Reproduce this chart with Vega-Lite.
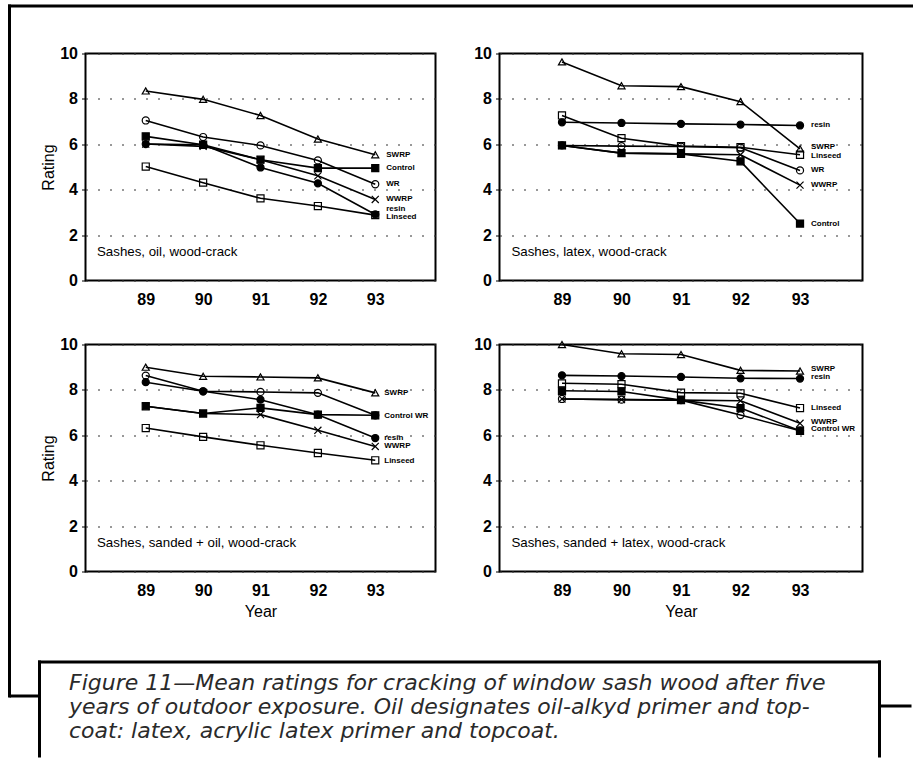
{
  "$schema": "https://vega.github.io/schema/vega-lite/v6.json",
  "padding": {"left": 8.5, "top": 5.5, "right": 0, "bottom": 0},
  "background": "white",
  "datasets": {
    "ratings": [
      {"panel": "oil", "series": "SWRP", "year": 89, "rating": 8.35},
      {"panel": "oil", "series": "SWRP", "year": 90, "rating": 7.98},
      {"panel": "oil", "series": "SWRP", "year": 91, "rating": 7.27},
      {"panel": "oil", "series": "SWRP", "year": 92, "rating": 6.23},
      {"panel": "oil", "series": "SWRP", "year": 93, "rating": 5.54},
      {"panel": "oil", "series": "WR", "year": 89, "rating": 7.05},
      {"panel": "oil", "series": "WR", "year": 90, "rating": 6.32},
      {"panel": "oil", "series": "WR", "year": 91, "rating": 5.95},
      {"panel": "oil", "series": "WR", "year": 92, "rating": 5.29},
      {"panel": "oil", "series": "WR", "year": 93, "rating": 4.24},
      {"panel": "oil", "series": "resin", "year": 89, "rating": 6.01},
      {"panel": "oil", "series": "resin", "year": 90, "rating": 5.98},
      {"panel": "oil", "series": "resin", "year": 91, "rating": 4.98},
      {"panel": "oil", "series": "resin", "year": 92, "rating": 4.28},
      {"panel": "oil", "series": "resin", "year": 93, "rating": 2.91},
      {"panel": "oil", "series": "Control", "year": 89, "rating": 6.35},
      {"panel": "oil", "series": "Control", "year": 90, "rating": 5.98},
      {"panel": "oil", "series": "Control", "year": 91, "rating": 5.32},
      {"panel": "oil", "series": "Control", "year": 92, "rating": 4.95},
      {"panel": "oil", "series": "Control", "year": 93, "rating": 4.95},
      {"panel": "oil", "series": "WWRP", "year": 89, "rating": 6.01},
      {"panel": "oil", "series": "WWRP", "year": 90, "rating": 5.91},
      {"panel": "oil", "series": "WWRP", "year": 91, "rating": 5.32},
      {"panel": "oil", "series": "WWRP", "year": 92, "rating": 4.61},
      {"panel": "oil", "series": "WWRP", "year": 93, "rating": 3.57},
      {"panel": "oil", "series": "Linseed", "year": 89, "rating": 5.02},
      {"panel": "oil", "series": "Linseed", "year": 90, "rating": 4.31},
      {"panel": "oil", "series": "Linseed", "year": 91, "rating": 3.62},
      {"panel": "oil", "series": "Linseed", "year": 92, "rating": 3.28},
      {"panel": "oil", "series": "Linseed", "year": 93, "rating": 2.88},

      {"panel": "latex", "series": "SWRP", "year": 89, "rating": 9.63},
      {"panel": "latex", "series": "SWRP", "year": 90, "rating": 8.58},
      {"panel": "latex", "series": "SWRP", "year": 91, "rating": 8.54},
      {"panel": "latex", "series": "SWRP", "year": 92, "rating": 7.88},
      {"panel": "latex", "series": "SWRP", "year": 93, "rating": 5.8},
      {"panel": "latex", "series": "resin", "year": 89, "rating": 6.97},
      {"panel": "latex", "series": "resin", "year": 90, "rating": 6.94},
      {"panel": "latex", "series": "resin", "year": 91, "rating": 6.9},
      {"panel": "latex", "series": "resin", "year": 92, "rating": 6.87},
      {"panel": "latex", "series": "resin", "year": 93, "rating": 6.83},
      {"panel": "latex", "series": "Linseed", "year": 89, "rating": 7.27},
      {"panel": "latex", "series": "Linseed", "year": 90, "rating": 6.27},
      {"panel": "latex", "series": "Linseed", "year": 91, "rating": 5.92},
      {"panel": "latex", "series": "Linseed", "year": 92, "rating": 5.87},
      {"panel": "latex", "series": "Linseed", "year": 93, "rating": 5.54},
      {"panel": "latex", "series": "WR", "year": 89, "rating": 5.95},
      {"panel": "latex", "series": "WR", "year": 90, "rating": 5.92},
      {"panel": "latex", "series": "WR", "year": 91, "rating": 5.9},
      {"panel": "latex", "series": "WR", "year": 92, "rating": 5.85},
      {"panel": "latex", "series": "WR", "year": 93, "rating": 4.85},
      {"panel": "latex", "series": "WWRP", "year": 89, "rating": 5.95},
      {"panel": "latex", "series": "WWRP", "year": 90, "rating": 5.61},
      {"panel": "latex", "series": "WWRP", "year": 91, "rating": 5.58},
      {"panel": "latex", "series": "WWRP", "year": 92, "rating": 5.54},
      {"panel": "latex", "series": "WWRP", "year": 93, "rating": 4.2},
      {"panel": "latex", "series": "Control", "year": 89, "rating": 5.95},
      {"panel": "latex", "series": "Control", "year": 90, "rating": 5.61},
      {"panel": "latex", "series": "Control", "year": 91, "rating": 5.58},
      {"panel": "latex", "series": "Control", "year": 92, "rating": 5.25},
      {"panel": "latex", "series": "Control", "year": 93, "rating": 2.51},

      {"panel": "sanded oil", "series": "SWRP", "year": 89, "rating": 9.0},
      {"panel": "sanded oil", "series": "SWRP", "year": 90, "rating": 8.6},
      {"panel": "sanded oil", "series": "SWRP", "year": 91, "rating": 8.57},
      {"panel": "sanded oil", "series": "SWRP", "year": 92, "rating": 8.53},
      {"panel": "sanded oil", "series": "SWRP", "year": 93, "rating": 7.87},
      {"panel": "sanded oil", "series": "WR", "year": 89, "rating": 8.63},
      {"panel": "sanded oil", "series": "WR", "year": 90, "rating": 7.94},
      {"panel": "sanded oil", "series": "WR", "year": 91, "rating": 7.91},
      {"panel": "sanded oil", "series": "WR", "year": 92, "rating": 7.87},
      {"panel": "sanded oil", "series": "WR", "year": 93, "rating": 6.88},
      {"panel": "sanded oil", "series": "resin", "year": 89, "rating": 8.34},
      {"panel": "sanded oil", "series": "resin", "year": 90, "rating": 7.94},
      {"panel": "sanded oil", "series": "resin", "year": 91, "rating": 7.57},
      {"panel": "sanded oil", "series": "resin", "year": 92, "rating": 6.91},
      {"panel": "sanded oil", "series": "resin", "year": 93, "rating": 5.88},
      {"panel": "sanded oil", "series": "Control", "year": 89, "rating": 7.28},
      {"panel": "sanded oil", "series": "Control", "year": 90, "rating": 6.96},
      {"panel": "sanded oil", "series": "Control", "year": 91, "rating": 7.21},
      {"panel": "sanded oil", "series": "Control", "year": 92, "rating": 6.91},
      {"panel": "sanded oil", "series": "Control", "year": 93, "rating": 6.88},
      {"panel": "sanded oil", "series": "WWRP", "year": 89, "rating": 7.28},
      {"panel": "sanded oil", "series": "WWRP", "year": 90, "rating": 6.96},
      {"panel": "sanded oil", "series": "WWRP", "year": 91, "rating": 6.91},
      {"panel": "sanded oil", "series": "WWRP", "year": 92, "rating": 6.22},
      {"panel": "sanded oil", "series": "WWRP", "year": 93, "rating": 5.51},
      {"panel": "sanded oil", "series": "Linseed", "year": 89, "rating": 6.32},
      {"panel": "sanded oil", "series": "Linseed", "year": 90, "rating": 5.93},
      {"panel": "sanded oil", "series": "Linseed", "year": 91, "rating": 5.56},
      {"panel": "sanded oil", "series": "Linseed", "year": 92, "rating": 5.22},
      {"panel": "sanded oil", "series": "Linseed", "year": 93, "rating": 4.9},

      {"panel": "sanded latex", "series": "SWRP", "year": 89, "rating": 10.0},
      {"panel": "sanded latex", "series": "SWRP", "year": 90, "rating": 9.59},
      {"panel": "sanded latex", "series": "SWRP", "year": 91, "rating": 9.56},
      {"panel": "sanded latex", "series": "SWRP", "year": 92, "rating": 8.86},
      {"panel": "sanded latex", "series": "SWRP", "year": 93, "rating": 8.83},
      {"panel": "sanded latex", "series": "resin", "year": 89, "rating": 8.64},
      {"panel": "sanded latex", "series": "resin", "year": 90, "rating": 8.61},
      {"panel": "sanded latex", "series": "resin", "year": 91, "rating": 8.57},
      {"panel": "sanded latex", "series": "resin", "year": 92, "rating": 8.51},
      {"panel": "sanded latex", "series": "resin", "year": 93, "rating": 8.5},
      {"panel": "sanded latex", "series": "Linseed", "year": 89, "rating": 8.29},
      {"panel": "sanded latex", "series": "Linseed", "year": 90, "rating": 8.25},
      {"panel": "sanded latex", "series": "Linseed", "year": 91, "rating": 7.88},
      {"panel": "sanded latex", "series": "Linseed", "year": 92, "rating": 7.85},
      {"panel": "sanded latex", "series": "Linseed", "year": 93, "rating": 7.2},
      {"panel": "sanded latex", "series": "Control", "year": 89, "rating": 7.96},
      {"panel": "sanded latex", "series": "Control", "year": 90, "rating": 7.93},
      {"panel": "sanded latex", "series": "Control", "year": 91, "rating": 7.55},
      {"panel": "sanded latex", "series": "Control", "year": 92, "rating": 7.2},
      {"panel": "sanded latex", "series": "Control", "year": 93, "rating": 6.2},
      {"panel": "sanded latex", "series": "WWRP", "year": 89, "rating": 7.6},
      {"panel": "sanded latex", "series": "WWRP", "year": 90, "rating": 7.57},
      {"panel": "sanded latex", "series": "WWRP", "year": 91, "rating": 7.55},
      {"panel": "sanded latex", "series": "WWRP", "year": 92, "rating": 7.52},
      {"panel": "sanded latex", "series": "WWRP", "year": 93, "rating": 6.53},
      {"panel": "sanded latex", "series": "WR", "year": 89, "rating": 7.6},
      {"panel": "sanded latex", "series": "WR", "year": 90, "rating": 7.57},
      {"panel": "sanded latex", "series": "WR", "year": 91, "rating": 7.55},
      {"panel": "sanded latex", "series": "WR", "year": 92, "rating": 6.89},
      {"panel": "sanded latex", "series": "WR", "year": 93, "rating": 6.2}
    ],
    "labels": [
      {"panel": "oil", "label": "SWRP", "rating": 5.55},
      {"panel": "oil", "label": "Control", "rating": 4.95},
      {"panel": "oil", "label": "WR", "rating": 4.25},
      {"panel": "oil", "label": "WWRP", "rating": 3.6},
      {"panel": "oil", "label": "resin", "rating": 3.14},
      {"panel": "oil", "label": "Linseed", "rating": 2.78},
      {"panel": "latex", "label": "resin", "rating": 6.83},
      {"panel": "latex", "label": "SWRP", "rating": 5.86},
      {"panel": "latex", "label": "Linseed", "rating": 5.5},
      {"panel": "latex", "label": "WR", "rating": 4.88},
      {"panel": "latex", "label": "WWRP", "rating": 4.2},
      {"panel": "latex", "label": "Control", "rating": 2.51},
      {"panel": "sanded oil", "label": "SWRP", "rating": 7.87},
      {"panel": "sanded oil", "label": "Control  WR", "rating": 6.87},
      {"panel": "sanded oil", "label": "resin", "rating": 5.9},
      {"panel": "sanded oil", "label": "WWRP", "rating": 5.55},
      {"panel": "sanded oil", "label": "Linseed", "rating": 4.87},
      {"panel": "sanded latex", "label": "SWRP", "rating": 8.92},
      {"panel": "sanded latex", "label": "resin", "rating": 8.58},
      {"panel": "sanded latex", "label": "Linseed", "rating": 7.2},
      {"panel": "sanded latex", "label": "WWRP", "rating": 6.6},
      {"panel": "sanded latex", "label": "Control  WR", "rating": 6.27}
    ],
    "titles": [
      {"panel": "oil", "title": "Sashes, oil, wood-crack"},
      {"panel": "latex", "title": "Sashes, latex, wood-crack"},
      {"panel": "sanded oil", "title": "Sashes, sanded + oil, wood-crack"},
      {"panel": "sanded latex", "title": "Sashes, sanded + latex, wood-crack"}
    ],
    "caption": [
      {"line": 1, "text": "Figure 11—Mean ratings for cracking of window sash wood after five"},
      {"line": 2, "text": "years of outdoor exposure. Oil designates oil-alkyd primer and top-"},
      {"line": 3, "text": "coat: latex, acrylic latex primer and topcoat."}
    ]
  },
  "config": {
    "font": "Liberation Sans",
    "view": {"stroke": "black", "strokeWidth": 2},
    "axis": {"labelColor": "black", "titleColor": "black", "labelFont": "Liberation Sans", "titleFont": "Liberation Sans"}
  },
  "vconcat": [
    {
      "vconcat": [
        {
          "hconcat": [
            {
              "width": 350, "height": 227,
              "layer": [
                {"data": {"name": "ratings"}, "transform": [{"filter": "datum.panel === 'oil'"}],
                 "mark": {"type": "line", "color": "black", "strokeWidth": 1.6},
                 "encoding": {
                   "x": {"field": "year", "type": "quantitative", "scale": {"domain": [87.95, 94.05], "nice": false, "zero": false},
                         "axis": {"values": [89, 90, 91, 92, 93], "format": "d", "grid": false, "ticks": false, "domain": false, "labelPadding": 11, "labelFontSize": 16, "labelFontWeight": "bold", "title": null}},
                   "y": {"field": "rating", "type": "quantitative", "scale": {"domain": [0, 10], "nice": false},
                         "axis": {"values": [0, 2, 4, 6, 8, 10], "grid": true, "gridColor": "#333", "gridDash": [2, 10], "gridWidth": 1, "domain": false, "tickSize": 4, "tickColor": "black", "labelPadding": 4, "labelFontSize": 16, "labelFontWeight": "bold", "title": "Rating", "titleFontSize": 16, "titleFontWeight": "normal", "titlePadding": 3}},
                   "detail": {"field": "series"}
                 }},
                {"data": {"name": "ratings"}, "transform": [{"filter": "datum.panel === 'oil'"}],
                 "mark": {"type": "point", "filled": false, "stroke": "black", "strokeWidth": 1.2, "size": 50, "opacity": 1},
                 "encoding": {
                   "x": {"field": "year", "type": "quantitative"},
                   "y": {"field": "rating", "type": "quantitative"},
                   "shape": {"field": "series", "scale": {"domain": ["SWRP", "WR", "resin", "Control", "WWRP", "Linseed"], "range": ["triangle-up", "circle", "circle", "square", "M-1,-1L1,1M-1,1L1,-1", "square"]}, "legend": null},
                   "fill": {"field": "series", "scale": {"domain": ["SWRP", "WR", "resin", "Control", "WWRP", "Linseed"], "range": ["transparent", "transparent", "black", "black", "transparent", "transparent"]}, "legend": null}
                 }},
                {"data": {"name": "labels"}, "transform": [{"filter": "datum.panel === 'oil'"}],
                 "mark": {"type": "text", "align": "left", "baseline": "middle", "dx": 11, "fontSize": 8, "fontWeight": "bold", "color": "black"},
                 "encoding": {"x": {"datum": 93, "type": "quantitative"}, "y": {"field": "rating", "type": "quantitative"}, "text": {"field": "label"}}},
                {"data": {"name": "titles"}, "transform": [{"filter": "datum.panel === 'oil'"}],
                 "mark": {"type": "text", "align": "left", "baseline": "middle", "fontSize": 13.3, "color": "black"},
                 "encoding": {"x": {"datum": 88.15, "type": "quantitative"}, "y": {"datum": 1.25, "type": "quantitative"}, "text": {"field": "title"}}}
              ]
            },
            {
              "width": 363, "height": 227,
              "layer": [
                {"data": {"name": "ratings"}, "transform": [{"filter": "datum.panel === 'latex'"}],
                 "mark": {"type": "line", "color": "black", "strokeWidth": 1.6},
                 "encoding": {
                   "x": {"field": "year", "type": "quantitative", "scale": {"domain": [87.95, 94.05], "nice": false, "zero": false},
                         "axis": {"values": [89, 90, 91, 92, 93], "format": "d", "grid": false, "ticks": false, "domain": false, "labelPadding": 11, "labelFontSize": 16, "labelFontWeight": "bold", "title": null}},
                   "y": {"field": "rating", "type": "quantitative", "scale": {"domain": [0, 10], "nice": false},
                         "axis": {"values": [0, 2, 4, 6, 8, 10], "grid": true, "gridColor": "#333", "gridDash": [2, 10], "gridWidth": 1, "domain": false, "tickSize": 4, "tickColor": "black", "labelPadding": 4, "labelFontSize": 16, "labelFontWeight": "bold", "title": null}},
                   "detail": {"field": "series"}
                 }},
                {"data": {"name": "ratings"}, "transform": [{"filter": "datum.panel === 'latex'"}],
                 "mark": {"type": "point", "filled": false, "stroke": "black", "strokeWidth": 1.2, "size": 50, "opacity": 1},
                 "encoding": {
                   "x": {"field": "year", "type": "quantitative"},
                   "y": {"field": "rating", "type": "quantitative"},
                   "shape": {"field": "series", "scale": {"domain": ["SWRP", "WR", "resin", "Control", "WWRP", "Linseed"], "range": ["triangle-up", "circle", "circle", "square", "M-1,-1L1,1M-1,1L1,-1", "square"]}, "legend": null},
                   "fill": {"field": "series", "scale": {"domain": ["SWRP", "WR", "resin", "Control", "WWRP", "Linseed"], "range": ["transparent", "transparent", "black", "black", "transparent", "transparent"]}, "legend": null}
                 }},
                {"data": {"name": "labels"}, "transform": [{"filter": "datum.panel === 'latex'"}],
                 "mark": {"type": "text", "align": "left", "baseline": "middle", "dx": 11, "fontSize": 8, "fontWeight": "bold", "color": "black"},
                 "encoding": {"x": {"datum": 93, "type": "quantitative"}, "y": {"field": "rating", "type": "quantitative"}, "text": {"field": "label"}}},
                {"data": {"name": "titles"}, "transform": [{"filter": "datum.panel === 'latex'"}],
                 "mark": {"type": "text", "align": "left", "baseline": "middle", "fontSize": 13.3, "color": "black"},
                 "encoding": {"x": {"datum": 88.15, "type": "quantitative"}, "y": {"datum": 1.25, "type": "quantitative"}, "text": {"field": "title"}}}
              ]
            }
          ],
          "spacing": 36
        },
        {
          "hconcat": [
            {
              "width": 350, "height": 227,
              "layer": [
                {"data": {"name": "ratings"}, "transform": [{"filter": "datum.panel === 'sanded oil'"}],
                 "mark": {"type": "line", "color": "black", "strokeWidth": 1.6},
                 "encoding": {
                   "x": {"field": "year", "type": "quantitative", "scale": {"domain": [87.95, 94.05], "nice": false, "zero": false},
                         "axis": {"values": [89, 90, 91, 92, 93], "format": "d", "grid": false, "ticks": false, "domain": false, "labelPadding": 11, "labelFontSize": 16, "labelFontWeight": "bold", "title": "Year", "titleFontSize": 16, "titleFontWeight": "normal", "titlePadding": 5}},
                   "y": {"field": "rating", "type": "quantitative", "scale": {"domain": [0, 10], "nice": false},
                         "axis": {"values": [0, 2, 4, 6, 8, 10], "grid": true, "gridColor": "#333", "gridDash": [2, 10], "gridWidth": 1, "domain": false, "tickSize": 4, "tickColor": "black", "labelPadding": 4, "labelFontSize": 16, "labelFontWeight": "bold", "title": "Rating", "titleFontSize": 16, "titleFontWeight": "normal", "titlePadding": 3}},
                   "detail": {"field": "series"}
                 }},
                {"data": {"name": "ratings"}, "transform": [{"filter": "datum.panel === 'sanded oil'"}],
                 "mark": {"type": "point", "filled": false, "stroke": "black", "strokeWidth": 1.2, "size": 50, "opacity": 1},
                 "encoding": {
                   "x": {"field": "year", "type": "quantitative"},
                   "y": {"field": "rating", "type": "quantitative"},
                   "shape": {"field": "series", "scale": {"domain": ["SWRP", "WR", "resin", "Control", "WWRP", "Linseed"], "range": ["triangle-up", "circle", "circle", "square", "M-1,-1L1,1M-1,1L1,-1", "square"]}, "legend": null},
                   "fill": {"field": "series", "scale": {"domain": ["SWRP", "WR", "resin", "Control", "WWRP", "Linseed"], "range": ["transparent", "transparent", "black", "black", "transparent", "transparent"]}, "legend": null}
                 }},
                {"data": {"name": "labels"}, "transform": [{"filter": "datum.panel === 'sanded oil'"}],
                 "mark": {"type": "text", "align": "left", "baseline": "middle", "dx": 9, "fontSize": 8, "fontWeight": "bold", "color": "black"},
                 "encoding": {"x": {"datum": 93, "type": "quantitative"}, "y": {"field": "rating", "type": "quantitative"}, "text": {"field": "label"}}},
                {"data": {"name": "titles"}, "transform": [{"filter": "datum.panel === 'sanded oil'"}],
                 "mark": {"type": "text", "align": "left", "baseline": "middle", "fontSize": 13.3, "color": "black"},
                 "encoding": {"x": {"datum": 88.15, "type": "quantitative"}, "y": {"datum": 1.25, "type": "quantitative"}, "text": {"field": "title"}}}
              ]
            },
            {
              "width": 363, "height": 227,
              "layer": [
                {"data": {"name": "ratings"}, "transform": [{"filter": "datum.panel === 'sanded latex'"}],
                 "mark": {"type": "line", "color": "black", "strokeWidth": 1.6},
                 "encoding": {
                   "x": {"field": "year", "type": "quantitative", "scale": {"domain": [87.95, 94.05], "nice": false, "zero": false},
                         "axis": {"values": [89, 90, 91, 92, 93], "format": "d", "grid": false, "ticks": false, "domain": false, "labelPadding": 11, "labelFontSize": 16, "labelFontWeight": "bold", "title": "Year", "titleFontSize": 16, "titleFontWeight": "normal", "titlePadding": 5}},
                   "y": {"field": "rating", "type": "quantitative", "scale": {"domain": [0, 10], "nice": false},
                         "axis": {"values": [0, 2, 4, 6, 8, 10], "grid": true, "gridColor": "#333", "gridDash": [2, 10], "gridWidth": 1, "domain": false, "tickSize": 4, "tickColor": "black", "labelPadding": 4, "labelFontSize": 16, "labelFontWeight": "bold", "title": null}},
                   "detail": {"field": "series"}
                 }},
                {"data": {"name": "ratings"}, "transform": [{"filter": "datum.panel === 'sanded latex'"}],
                 "mark": {"type": "point", "filled": false, "stroke": "black", "strokeWidth": 1.2, "size": 50, "opacity": 1},
                 "encoding": {
                   "x": {"field": "year", "type": "quantitative"},
                   "y": {"field": "rating", "type": "quantitative"},
                   "shape": {"field": "series", "scale": {"domain": ["SWRP", "WR", "resin", "Control", "WWRP", "Linseed"], "range": ["triangle-up", "circle", "circle", "square", "M-1,-1L1,1M-1,1L1,-1", "square"]}, "legend": null},
                   "fill": {"field": "series", "scale": {"domain": ["SWRP", "WR", "resin", "Control", "WWRP", "Linseed"], "range": ["transparent", "transparent", "black", "black", "transparent", "transparent"]}, "legend": null}
                 }},
                {"data": {"name": "labels"}, "transform": [{"filter": "datum.panel === 'sanded latex'"}],
                 "mark": {"type": "text", "align": "left", "baseline": "middle", "dx": 11, "fontSize": 8, "fontWeight": "bold", "color": "black"},
                 "encoding": {"x": {"datum": 93, "type": "quantitative"}, "y": {"field": "rating", "type": "quantitative"}, "text": {"field": "label"}}},
                {"data": {"name": "titles"}, "transform": [{"filter": "datum.panel === 'sanded latex'"}],
                 "mark": {"type": "text", "align": "left", "baseline": "middle", "fontSize": 13.3, "color": "black"},
                 "encoding": {"x": {"datum": 88.15, "type": "quantitative"}, "y": {"datum": 1.25, "type": "quantitative"}, "text": {"field": "title"}}}
              ]
            }
          ],
          "spacing": 36
        }
      ],
      "spacing": 27
    },
    {
      "width": 793.5, "height": 94,
      "view": {"stroke": null},
      "data": {"name": "caption"},
      "layer": [
        {"mark": {"type": "text", "align": "left", "baseline": "middle", "dx": 30, "fontSize": 22, "fontStyle": "italic", "font": "DejaVu Sans", "color": "#2a2a2a"},
         "encoding": {
           "x": {"datum": 0, "type": "quantitative", "scale": {"domain": [0, 1], "range": [-46.5, 793.5]}, "axis": {"orient": "top", "offset": 0, "domain": true, "domainWidth": 3, "domainColor": "black", "domainCap": "square", "ticks": false, "labels": false, "grid": false, "title": null}},
           "y": {"field": "line", "type": "quantitative", "scale": {"domain": [0.1, 4.0], "reverse": true}, "axis": {"orient": "left", "offset": 46.5, "domain": true, "domainWidth": 3, "domainColor": "black", "domainCap": "square", "ticks": false, "labels": false, "grid": false, "title": null}},
           "text": {"field": "text"}
         }},
        {"transform": [{"filter": "false"}],
         "mark": {"type": "text", "opacity": 0},
         "encoding": {
           "x": {"datum": 0, "type": "quantitative", "scale": {"domain": [0, 1], "range": [-76.5, 825.5]}, "axis": {"orient": "top", "offset": 656, "domain": true, "domainWidth": 3, "domainColor": "black", "domainCap": "square", "ticks": false, "labels": false, "grid": false, "title": null}},
           "y": {"datum": 0, "type": "quantitative", "scale": {"domain": [0, 1], "range": [34, -656]}, "axis": {"orient": "left", "offset": 76.5, "domain": true, "domainWidth": 3, "domainColor": "black", "domainCap": "square", "ticks": false, "labels": false, "grid": false, "title": null}},
           "text": {"field": "text"}
         }},
        {"transform": [{"filter": "false"}],
         "mark": {"type": "text", "opacity": 0},
         "encoding": {
           "x": {"datum": 0, "type": "quantitative", "scale": {"domain": [0, 1], "range": [-76.5, -46.5]}, "axis": {"orient": "bottom", "offset": -60, "domain": true, "domainWidth": 3, "domainColor": "black", "ticks": false, "labels": false, "grid": false, "title": null}},
           "y": {"datum": 0, "type": "quantitative", "scale": {"domain": [0, 1]}, "axis": {"orient": "right", "offset": 0, "domain": true, "domainWidth": 3, "domainColor": "black", "domainCap": "square", "ticks": false, "labels": false, "grid": false, "title": null}},
           "text": {"field": "text"}
         }},
        {"transform": [{"filter": "false"}],
         "mark": {"type": "text", "opacity": 0},
         "encoding": {
           "x": {"datum": 0, "type": "quantitative", "scale": {"domain": [0, 1], "range": [793.5, 825.5]}, "axis": {"orient": "bottom", "offset": -50, "domain": true, "domainWidth": 3, "domainColor": "black", "ticks": false, "labels": false, "grid": false, "title": null}},
           "y": {"datum": 0, "type": "quantitative", "scale": {"domain": [0, 1]}, "axis": null},
           "text": {"field": "text"}
         }}
      ],
      "resolve": {"scale": {"x": "independent", "y": "independent"}, "axis": {"x": "independent", "y": "independent"}}
    }
  ],
  "spacing": -615
}
